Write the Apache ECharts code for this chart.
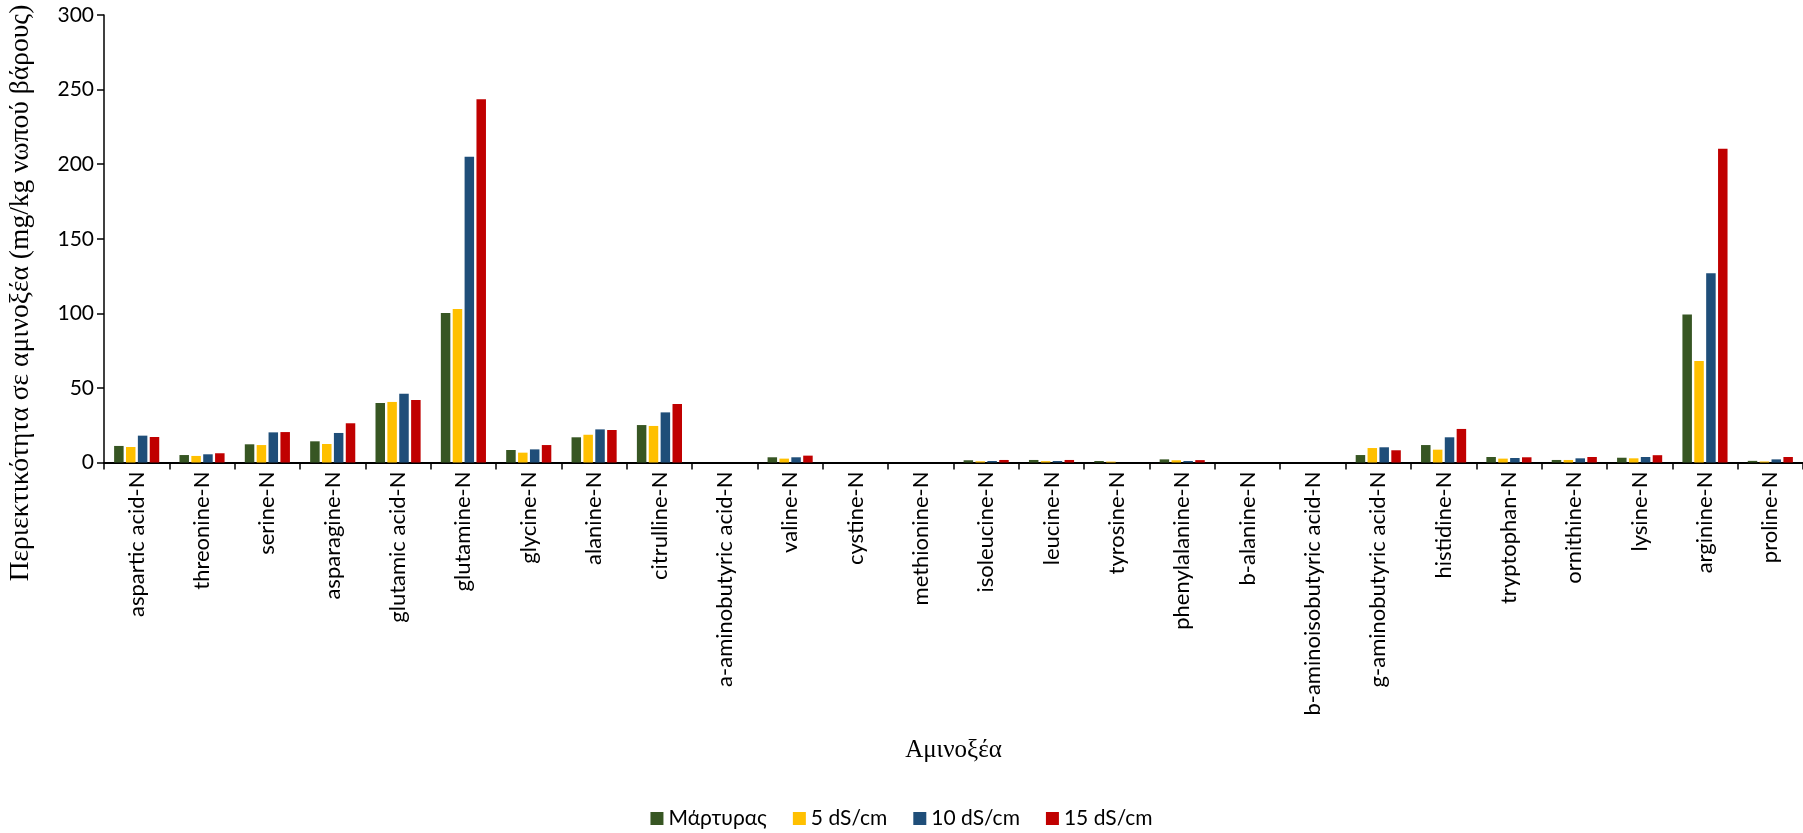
<!DOCTYPE html>
<html>
<head>
<meta charset="utf-8">
<script src="https://cdn.jsdelivr.net/npm/echarts@6/dist/echarts.min.js"></script>
<style>
  html, body { margin: 0; padding: 0; background: #fff; }
  #chart { width: 1803px; height: 833px; }
</style>
</head>
<body>
<div id="chart"></div>
<script>
// Amino acid content per treatment (mg/kg fresh weight)
const categories = [
  'aspartic acid-N', 'threonine-N', 'serine-N', 'asparagine-N', 'glutamic acid-N',
  'glutamine-N', 'glycine-N', 'alanine-N', 'citrulline-N', 'a-aminobutyric acid-N',
  'valine-N', 'cystine-N', 'methionine-N', 'isoleucine-N', 'leucine-N', 'tyrosine-N',
  'phenylalanine-N', 'b-alanine-N', 'b-aminoisobutyric acid-N', 'g-aminobutyric acid-N',
  'histidine-N', 'tryptophan-N', 'ornithine-N', 'lysine-N', 'arginine-N', 'proline-N'
];

const seriesNames = ['Μάρτυρας', '5 dS/cm', '10 dS/cm', '15 dS/cm'];

const control = [11.1, 5.0, 12.2, 14.2, 39.9, 100.2, 8.4, 16.9, 25.1, 0,
                 3.5, 0, 0, 1.5, 1.7, 1.0, 2.1, 0, 0, 5.0,
                 11.7, 3.7, 1.7, 3.2, 99.3, 1.1];
const ec5 = [10.4, 4.4, 11.7, 12.4, 40.6, 102.9, 6.6, 18.6, 24.5, 0,
             2.6, 0, 0, 0.8, 0.9, 0.6, 1.5, 0, 0, 9.7,
             8.6, 2.6, 1.7, 2.8, 68.0, 0.7];
const ec10 = [18.0, 5.5, 20.2, 19.8, 46.1, 205.0, 8.8, 22.2, 33.6, 0,
              3.5, 0, 0, 1.0, 1.0, 0, 1.0, 0, 0, 10.2,
              16.9, 3.0, 2.8, 3.7, 126.8, 2.1];
const ec15 = [17.1, 6.2, 20.4, 26.3, 41.9, 243.5, 11.7, 21.8, 39.2, 0,
              4.6, 0, 0, 1.7, 1.7, 0, 1.6, 0, 0, 8.2,
              22.5, 3.5, 3.7, 4.9, 210.4, 3.7];

const yTicks = { min: 0, max: 300, interval: 50 };
const colors = ['#375623', '#FFC000', '#1F4E79', '#C00000'];

const sans = 'Lato, "Noto Sans", sans-serif';
const serif = '"Liberation Serif", "DejaVu Serif", serif';

const chart = echarts.init(document.getElementById('chart'), null, { renderer: 'canvas' });

const makeBar = (name, data, color) => ({
  name: name,
  type: 'bar',
  data: data,
  barWidth: 9.5,
  barGap: '25%',
  itemStyle: { color: color },
  emphasis: { disabled: true }
});

chart.setOption({
  animation: false,
  backgroundColor: '#ffffff',
  grid: { left: 104, right: 0, top: 15, bottom: 370.5, containLabel: false },
  legend: {
    data: seriesNames,
    top: 803,
    left: 'center',
    itemWidth: 13,
    itemHeight: 13,
    itemGap: 26,
    icon: 'rect',
    textStyle: { fontFamily: sans, fontSize: 21, color: '#000' }
  },
  xAxis: {
    type: 'category',
    data: categories,
    name: 'Αμινοξέα',
    nameLocation: 'middle',
    nameGap: 275,
    nameTextStyle: { fontFamily: serif, fontSize: 25, color: '#000' },
    axisLine: { lineStyle: { color: '#000', width: 2.2 } },
    axisTick: { show: true, length: 7, lineStyle: { color: '#000', width: 1.5 } },
    axisLabel: {
      interval: 0,
      rotate: 90,
      margin: 9,
      fontFamily: sans,
      fontSize: 22,
      color: '#000'
    },
    splitLine: { show: false }
  },
  yAxis: {
    type: 'value',
    min: yTicks.min,
    max: yTicks.max,
    interval: yTicks.interval,
    axisLine: { show: true, lineStyle: { color: '#000', width: 1.5 } },
    axisTick: { show: true, length: 7, lineStyle: { color: '#000', width: 1.5 } },
    axisLabel: { fontFamily: sans, fontSize: 21, color: '#000', margin: 10 },
    splitLine: { show: false }
  },
  graphic: [{
    type: 'text',
    x: 21,
    y: 293,
    rotation: Math.PI / 2,
    style: {
      text: 'Περιεκτικότητα σε αμινοξέα (mg/kg νωπού βάρους)',
      font: '27.5px ' + serif,
      fill: '#000',
      textAlign: 'center',
      textVerticalAlign: 'middle'
    }
  }],
  series: [
    makeBar(seriesNames[0], control, colors[0]),
    makeBar(seriesNames[1], ec5, colors[1]),
    makeBar(seriesNames[2], ec10, colors[2]),
    makeBar(seriesNames[3], ec15, colors[3])
  ]
});
</script>
</body>
</html>
